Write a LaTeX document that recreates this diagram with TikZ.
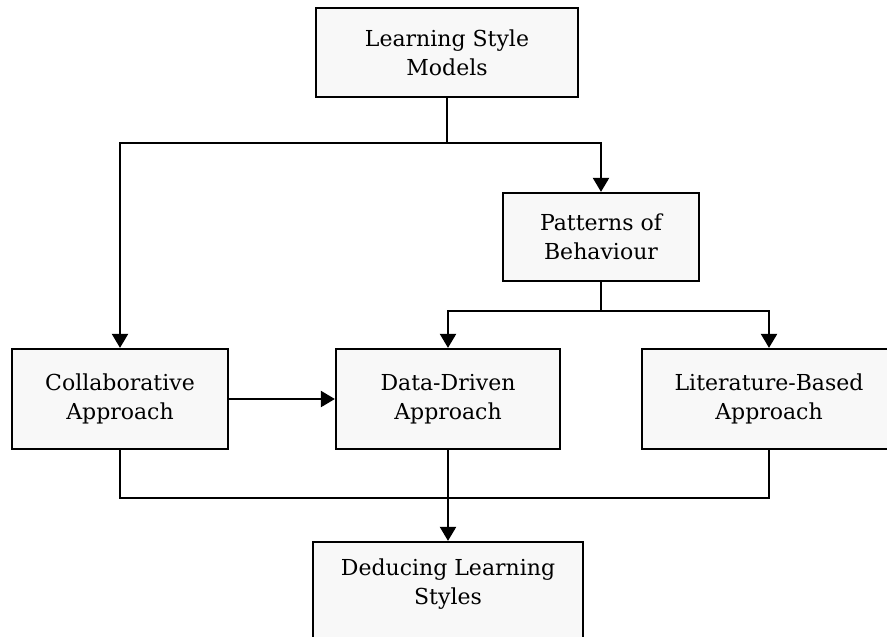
\documentclass[tikz,border=0pt]{standalone}
\usepackage{fontspec}
\setmainfont{DejaVu Serif}
\usepackage{tikz}
\usetikzlibrary{arrows.meta}

\definecolor{boxfill}{HTML}{F8F8F8}

\tikzset{
  box/.style={draw, line width=1.7pt, fill=boxfill, align=center,
    inner sep=0pt, font=\fontsize{16.5}{21.5}\selectfont},
  link/.style={line width=1.7pt},
  arr/.style={line width=1.7pt, -{Triangle[length=10.5pt,width=12pt]}}
}

\begin{document}
\begin{tikzpicture}[x=0.75pt,y=-0.75pt]

\useasboundingbox (0,0) rectangle (887,636);

% the boxes
\node (lsm) [box, minimum width=196.5pt, minimum height=66.75pt] at (447,52.5) {Learning Style\\Models};
\node (pob) [box, minimum width=147pt, minimum height=66pt] at (601,237) {Patterns of\\Behaviour};
\node (col) [box, minimum width=162pt, minimum height=75pt] at (120,399) {Collaborative\\Approach};
\node (ddr) [box, minimum width=168pt, minimum height=75pt] at (448,399) {Data-Driven\\Approach};
\node (lit) [box, minimum width=190.5pt, minimum height=75pt] at (769,399) {Literature-Based\\Approach};
\node (dls) [box, minimum width=202.5pt, minimum height=75pt, text depth=16pt] at (448,592) {Deducing Learning\\Styles};

% junctions
\coordinate (j1) at (447,143);
\coordinate (j2) at (601,311);
\coordinate (j3) at (448,498);

% top split
\draw [link] (lsm.south) -- (j1);
\draw [arr] (j1) -| (col.north);
\draw [arr] (j1) -| (pob.north);

% second split
\draw [link] (pob.south) -- (j2);
\draw [arr] (j2) -| (ddr.north);
\draw [arr] (j2) -| (lit.north);

\draw [arr] (col.east) -- (ddr.west);

% merge at the bottom
\draw [link] (col.south) |- (j3);
\draw [link] (lit.south) |- (j3);
\draw [link] (ddr.south) -- (j3);
\draw [arr] (j3) -- (dls.north);

\end{tikzpicture}
\end{document}
